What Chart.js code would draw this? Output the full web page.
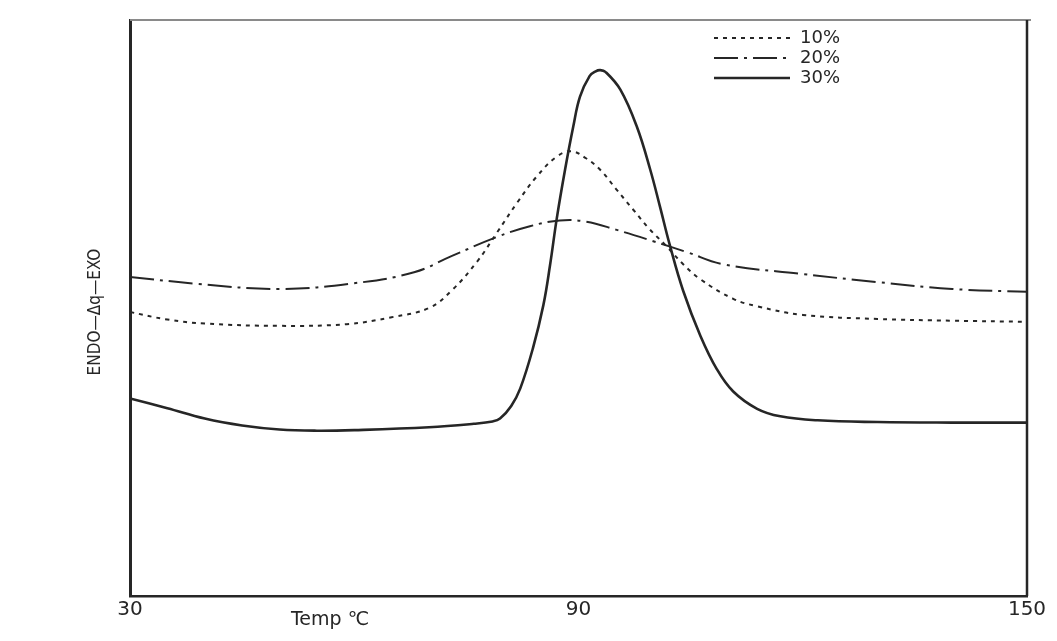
<!DOCTYPE html>
<html>
<head>
<meta charset="utf-8">
<script src="https://cdn.jsdelivr.net/npm/chart.js@4"></script>
<style>
  html, body { margin: 0; padding: 0; background: #fff; }
  #wrap { width: 1057px; height: 641px; }
</style>
</head>
<body>
<div id="wrap"><canvas id="dsc"></canvas></div>
<script>
// temperatures (deg C) and heat-flow readings (arbitrary units, 0 = bottom of frame)
const temps10 = [30, 35, 40, 50, 59, 65, 70, 73, 76.4, 79.1, 81.8, 84.4, 87, 89, 91, 92.9, 95, 97.3, 99.5, 101.8, 104, 106.3, 110.7, 113.9, 120, 130, 140, 150];
const flow10  = [49.3, 48.0, 47.3, 46.9, 47.2, 48.4, 50.0, 53.0, 58.0, 63.1, 68.3, 72.8, 76.2, 77.2, 76.0, 74.0, 70.7, 67.1, 63.7, 60.7, 57.6, 55.0, 51.6, 50.3, 48.8, 48.1, 47.8, 47.6];

const temps20 = [30, 39, 50, 60, 68, 73, 79, 83.5, 87.5, 91, 95, 100, 104.5, 109.3, 120, 130, 140, 150];
const flow20  = [55.4, 54.2, 53.3, 54.3, 56.2, 59.0, 62.3, 64.2, 65.2, 65.0, 63.6, 61.6, 59.7, 57.6, 55.9, 54.5, 53.3, 52.8];

const temps30 = [30, 35, 40, 45, 50, 55, 60, 70, 76, 78.5, 79.5, 81, 82.2, 83.9, 85.3, 86.2, 87.1, 88.2, 89.3, 90.2, 91.5, 92.3, 92.9, 93.6, 95.6, 97.8, 99.6, 100.9, 102.2, 104, 106.3, 108.5, 110.7, 113.9, 117, 122, 130, 140, 150];
const flow30  = [34.3, 32.6, 30.8, 29.6, 28.9, 28.7, 28.8, 29.3, 29.9, 30.3, 30.8, 33.0, 36.0, 43.0, 50.5, 57.5, 65.6, 74.0, 81.5, 86.7, 90.3, 91.1, 91.3, 91.0, 87.9, 81.5, 74.0, 67.6, 61.0, 53.0, 45.2, 39.4, 35.5, 32.5, 31.2, 30.5, 30.2, 30.1, 30.1];

const seriesNames = ['10%', '20%', '30%'];
const xTicks = [30, 90, 150];

const pts = (xs, ys) => xs.map((x, i) => ({ x: x, y: ys[i] }));
const ink = '#262626';

// frame, legend and free-standing labels
const decor = {
  id: 'decor',
  afterDraw(chart) {
    const ctx = chart.ctx;
    const a = chart.chartArea;
    ctx.save();
    // top edge (faint in the scan)
    ctx.strokeStyle = '#8a8a8a';
    ctx.lineWidth = 2;
    ctx.beginPath();
    ctx.moveTo(a.left, a.top);
    ctx.lineTo(a.right + 4, a.top);
    ctx.stroke();
    // right edge
    ctx.strokeStyle = ink;
    ctx.lineWidth = 2.5;
    ctx.beginPath();
    ctx.moveTo(a.right, a.top);
    ctx.lineTo(a.right, a.bottom);
    ctx.stroke();

    // legend in upper right
    ctx.font = '18px "DejaVu Sans"';
    ctx.textBaseline = 'middle';
    ctx.fillStyle = ink;
    chart.data.datasets.forEach((ds, i) => {
      const y = 38 + i * 20;
      ctx.strokeStyle = ink;
      ctx.lineWidth = ds.borderWidth;
      ctx.setLineDash(ds.borderDash || []);
      ctx.beginPath();
      ctx.moveTo(714, y);
      ctx.lineTo(790, y);
      ctx.stroke();
      ctx.setLineDash([]);
      ctx.fillText(ds.label, 800, y);
    });

    // y axis caption
    ctx.font = '17px "DejaVu Sans Condensed"';
    ctx.textAlign = 'center';
    ctx.translate(96, 312);
    ctx.rotate(-Math.PI / 2);
    ctx.fillText('ENDO\u2014\u0394q\u2014EXO', 0, 0);
    ctx.restore();

    // x axis caption
    ctx.save();
    ctx.font = '19px "DejaVu Sans"';
    ctx.fillStyle = ink;
    ctx.textAlign = 'center';
    ctx.textBaseline = 'middle';
    ctx.fillText('Temp \u2103', 330, 620);
    ctx.restore();
  }
};

new Chart(document.getElementById('dsc'), {
  type: 'line',
  data: {
    datasets: [
      { label: seriesNames[0], data: pts(temps10, flow10), borderColor: ink, borderWidth: 2, borderDash: [4, 5] },
      { label: seriesNames[1], data: pts(temps20, flow20), borderColor: ink, borderWidth: 2, borderDash: [24, 6, 3, 6] },
      { label: seriesNames[2], data: pts(temps30, flow30), borderColor: ink, borderWidth: 2.6 }
    ]
  },
  options: {
    responsive: true,
    maintainAspectRatio: false,
    animation: false,
    layout: { padding: { left: 130, right: 30, top: 20, bottom: 17 } },
    elements: {
      point: { radius: 0 },
      line: { tension: 0.4, fill: false }
    },
    plugins: { legend: { display: false }, tooltip: { enabled: false } },
    scales: {
      x: {
        type: 'linear',
        min: 30,
        max: 150,
        grid: { display: false, drawTicks: false },
        border: { display: true, color: ink, width: 2.5 },
        afterBuildTicks: axis => { axis.ticks = xTicks.map(v => ({ value: v })); },
        ticks: { color: ink, padding: 2, maxRotation: 0, font: { family: 'DejaVu Sans', size: 20 } }
      },
      y: {
        min: 0,
        max: 100,
        grid: { display: false, drawTicks: false },
        border: { display: true, color: ink, width: 3 },
        ticks: { display: false }
      }
    }
  },
  plugins: [decor]
});
</script>
</body>
</html>
